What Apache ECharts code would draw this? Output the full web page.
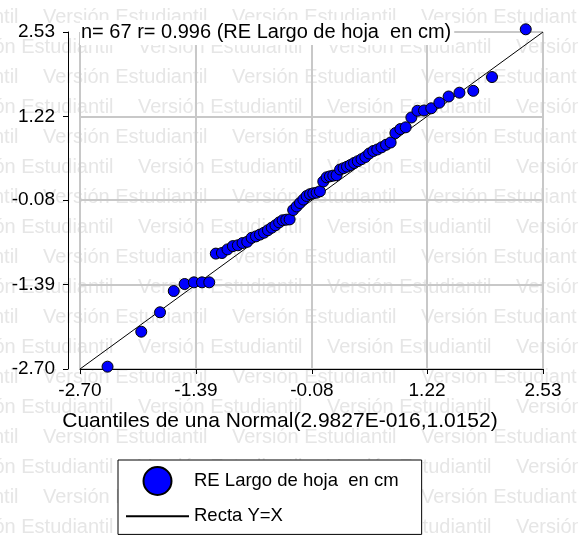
<!DOCTYPE html>
<html><head><meta charset="utf-8">
<script src="https://cdn.jsdelivr.net/npm/echarts@6/dist/echarts.min.js"></script>
<style>html,body{margin:0;padding:0;background:#fff}#c{width:578px;height:539px}</style>
</head><body><div id="c"></div>
<script>
const xTicks = [-2.70, -1.39, -0.08, 1.22, 2.53];
const yTicks = [-2.70, -1.39, -0.08, 1.22, 2.53];
const quantX = [-2.389,-2.008,-1.796,-1.641,-1.518,-1.413,-1.322,-1.240,-1.166,-1.097,
  -1.034,-0.973,-0.917,-0.864,-0.811,-0.761,-0.712,-0.667,-0.621,-0.577,
  -0.534,-0.492,-0.450,-0.411,-0.370,-0.332,-0.292,-0.253,-0.215,-0.177,
  -0.140,-0.102,-0.065,-0.027,0.010,0.048,0.086,0.123,0.161,0.198,
  0.238,0.277,0.316,0.356,0.396,0.438,0.480,0.523,0.567,0.613,
  0.658,0.706,0.757,0.809,0.863,0.919,0.979,1.043,1.112,1.186,
  1.268,1.359,1.464,1.586,1.742,1.954,2.335];
const residY = [-2.664,-2.121,-1.820,-1.490,-1.381,-1.355,-1.355,-1.355,-0.909,-0.900,
  -0.844,-0.793,-0.780,-0.745,-0.726,-0.664,-0.642,-0.614,-0.585,-0.546,
  -0.507,-0.470,-0.425,-0.392,-0.383,-0.378,-0.233,-0.178,-0.124,-0.070,
  -0.015,0.013,0.027,0.036,0.058,0.210,0.275,0.290,0.301,0.307,
  0.396,0.416,0.439,0.466,0.497,0.525,0.556,0.590,0.644,0.683,
  0.706,0.740,0.779,0.815,0.962,1.024,1.051,1.203,1.308,1.312,
  1.346,1.433,1.529,1.588,1.617,1.831,2.572];
const lineEnds = [-2.70, 2.53];
const seriesName = 'RE Largo de hoja  en cm';
const lineName = 'Recta Y=X';
const titleText = 'n= 67 r= 0.996 (RE Largo de hoja  en cm)';
const xName = 'Cuantiles de una Normal(2.9827E-016,1.0152)';
const watermark = 'Versión Estudiantil';

const FONT = '"Liberation Sans", Arial, sans-serif';
const wm = [];
for (let k = 0; k < 19; k++) {
  const y = 17 + 30 * k;
  const x0 = (k % 2 === 0) ? 43 : 138;
  for (let x = x0 - 189 * 2; x < 578; x += 189) {
    wm.push({type: 'text', x: x, y: y, z: -5, silent: true,
      style: {text: watermark, fill: '#e6e6e6', font: '20px ' + FONT, verticalAlign: 'middle'}});
  }
}

const chart = echarts.init(document.getElementById('c'), null, {renderer: 'canvas'});
const scatterData = quantX.map((x, i) => [x, residY[i]]);
const lineData = lineEnds.map(v => [v, v]);

chart.setOption({
  animation: false,
  backgroundColor: '#fff',
  textStyle: {fontFamily: FONT},
  graphic: {elements: wm},
  title: {
    text: titleText, left: 80, top: 20, padding: [2, 3, 2, 1], backgroundColor: '#fff',
    textStyle: {fontSize: 20, fontWeight: 'normal', color: '#000', lineHeight: 21, fontFamily: FONT}
  },
  grid: {left: 80, right: 35, top: 32, bottom: 170, containLabel: false},
  xAxis: {
    type: 'value', min: -2.70, max: 2.53,
    name: xName, nameLocation: 'middle', nameGap: 42,
    nameTextStyle: {fontSize: 21, color: '#000', padding: [0, 63, 0, 0], fontFamily: FONT},
    axisLine: {show: true, onZero: false, lineStyle: {color: '#000', width: 1}},
    axisTick: {show: true, length: 5, lineStyle: {color: '#000'}, customValues: xTicks},
    axisLabel: {customValues: xTicks, formatter: v => v.toFixed(2), fontSize: 19, color: '#000', margin: 12, fontFamily: FONT},
    splitLine: {show: true, lineStyle: {color: '#c8c8c8', width: 2}}
  },
  yAxis: {
    type: 'value', min: -2.70, max: 2.53, offset: 12,
    axisLine: {show: true, onZero: false, lineStyle: {color: '#000', width: 1}},
    axisTick: {show: true, length: 5, lineStyle: {color: '#000'}, customValues: yTicks},
    axisLabel: {customValues: yTicks, formatter: v => v.toFixed(2), fontSize: 19, color: '#000', margin: 13, fontFamily: FONT},
    splitLine: {show: true, lineStyle: {color: '#c8c8c8', width: 2}}
  },
  legend: {
    orient: 'vertical', left: 118, top: 460,
    padding: [6, 23, 7, 7],
    itemWidth: 63, itemHeight: 28, itemGap: 9,
    borderColor: '#000', borderWidth: 1, backgroundColor: '#fff',
    textStyle: {fontSize: 18.5, color: '#000', fontFamily: FONT},
    data: [seriesName, {name: lineName, itemStyle: {opacity: 0}}]
  },
  series: [
    {name: lineName, type: 'line', data: lineData, symbol: 'none', showSymbol: false,
     lineStyle: {color: '#000', width: 1}, itemStyle: {color: '#000'}, z: 2},
    {name: seriesName, type: 'scatter', data: scatterData, symbol: 'circle', symbolSize: 11, clip: false,
     itemStyle: {color: '#0000ff', borderColor: '#000', borderWidth: 1, opacity: 1}, z: 3}
  ]
});
</script>
</body></html>
